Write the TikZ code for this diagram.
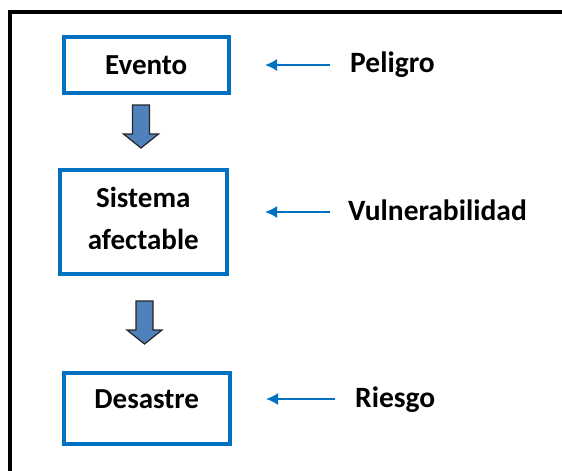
\documentclass[tikz,border=0pt]{standalone}
\usepackage{fontspec}
\setmainfont{Carlito}
\usetikzlibrary{arrows.meta}
\definecolor{boxblue}{HTML}{0070C0}
\definecolor{arrfill}{HTML}{4F81BD}
\tikzset{
  box/.style={draw=boxblue, line width=3.5pt, inner sep=0pt, fill=white,
              font=\bfseries\fontsize{29}{42}\selectfont, align=center},
  lbl/.style={inner sep=0pt, anchor=base west, font=\bfseries\fontsize{29.5}{42}\selectfont},
  sarrow/.style={draw=boxblue, line width=1.8pt, -{Latex[length=12pt,width=12pt]}},
  barrow/.pic={
    \draw[fill=arrfill, draw=black!85, line width=1.2pt, line join=miter]
      (-8.5,0) -- (8.5,0) -- (8.5,29) -- (17.5,29) -- (0,43) -- (-17.5,29) -- (-8.5,29) -- cycle;
  }
}
\begin{document}
\begin{tikzpicture}[x=1pt, y=-1pt]
\useasboundingbox (0,0) rectangle (562,471);
\fill[white] (0,0) rectangle (562,471);
% outer frame (only left and top edges visible)
\draw[line width=4pt, line join=miter] (10,490) -- (10,12) -- (580,12);

% boxes
\node[box, anchor=north west, minimum width=165pt, text height=38pt, text depth=18pt] (ev) at (62,35) {Evento};
\node[box, anchor=north west, minimum width=167pt, minimum height=104pt] (si) at (58,168) {Sistema\\afectable\\[-36pt]\mbox{}};
\node[box, anchor=north west, minimum width=166pt, text height=36pt, text depth=35pt] (de) at (62,371) {Desastre};

% block arrows
\pic at (141,105) {barrow};
\pic at (144.5,301) {barrow};

% labels
\node[lbl] (pe) at (350,72) {Peligro};
\node[lbl] (vu) at (348,220) {Vulnerabilidad};
\node[lbl] (ri) at (355,407) {Riesgo};

% small arrows
\coordinate (p1) at (330,65);  \coordinate (p2) at (265,65);
\coordinate (v1) at (330,212); \coordinate (v2) at (265,212);
\coordinate (r1) at (335,399); \coordinate (r2) at (266,399);
\draw[sarrow] (p1) -- (p2);
\draw[sarrow] (v1) -- (v2);
\draw[sarrow] (r1) -- (r2);
\end{tikzpicture}
\end{document}
